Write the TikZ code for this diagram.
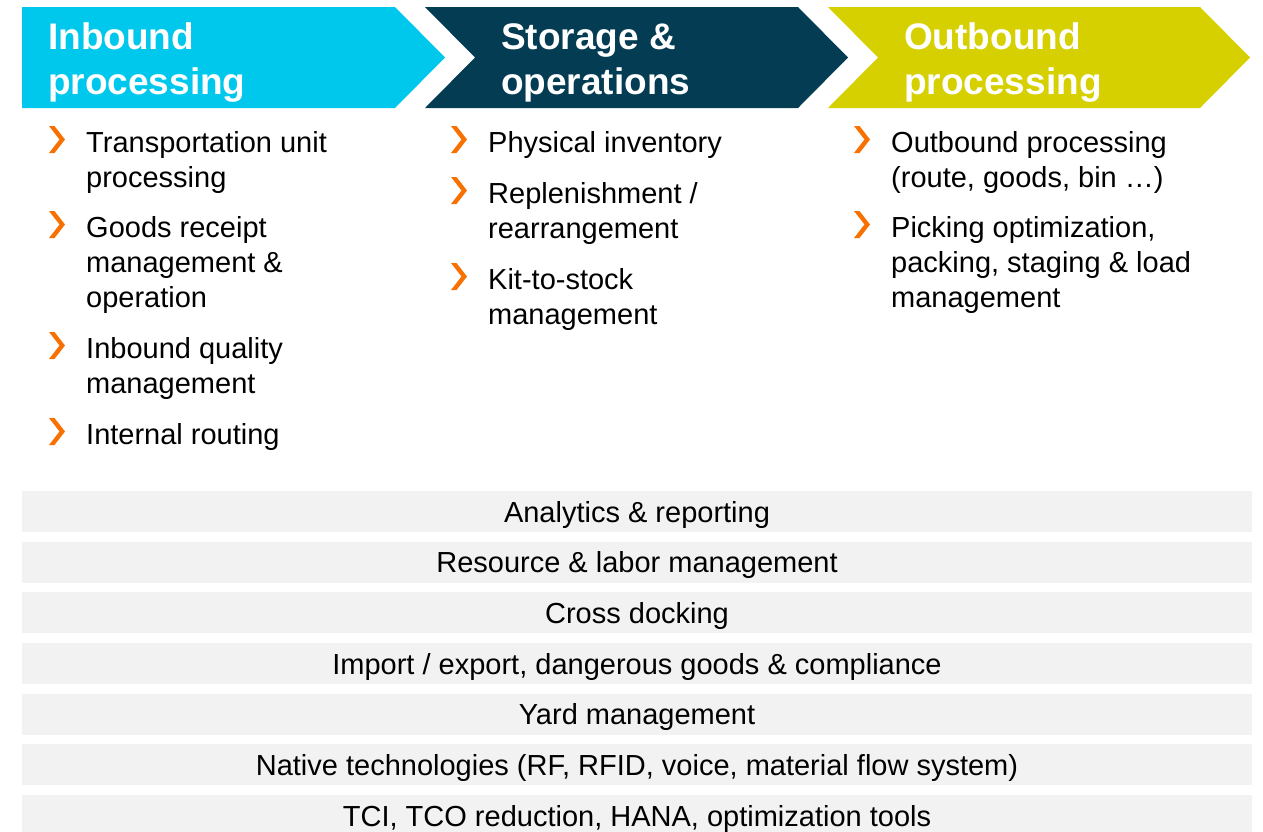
\documentclass[tikz,border=0pt]{standalone}
\usepackage{fontspec}
\setmainfont{Liberation Sans}
\definecolor{hcyan}{RGB}{0,200,236}
\definecolor{hteal}{RGB}{4,61,83}
\definecolor{holive}{RGB}{214,208,0}
\definecolor{borange}{RGB}{248,112,0}
\definecolor{bargray}{RGB}{242,242,242}
% multi-line nodes: the base anchor sits on the baseline of the LAST line
\tikzset{
  headtext/.style={anchor=base west, inner sep=0pt, align=left, text=white,
    font=\fontsize{37}{45}\selectfont\bfseries},
  itemtext/.style={anchor=base west, inner sep=0pt, align=left, text=black,
    font=\fontsize{29}{35}\selectfont},
  barbox/.style={fill=bargray, inner sep=0pt, minimum width=1230pt, minimum height=41pt,
    text height=21pt, text depth=0pt, font=\fontsize{29}{35}\selectfont},
}
\newcommand{\bulletmark}[2]{%
  \fill[borange] (#1,#2) -- ++(5.5,0) -- ++(10.5,13.5) -- ++(-10.5,13.5) -- ++(-5.5,0) -- ++(10.5,-13.5) -- cycle;}
\begin{document}
\begin{tikzpicture}[x=1pt,y=-1pt]
\useasboundingbox (0,0) rectangle (1263,831);
% headers
\fill[hcyan] (22,7) -- (395,7) -- (445,57.5) -- (395,108) -- (22,108) -- cycle;
\fill[hteal] (425,7) -- (798,7) -- (848,57.5) -- (798,108) -- (425,108) -- (475,57.5) -- cycle;
\fill[holive] (828,7) -- (1200,7) -- (1250,57.5) -- (1200,108) -- (828,108) -- (878,57.5) -- cycle;
\node[headtext] (h1) at (48,94) {Inbound\\processing};
\node[headtext] (h2) at (501,94) {Storage \&\\operations};
\node[headtext] (h3) at (904,94) {Outbound\\processing};
% left column
\bulletmark{49}{126}
\node[itemtext] (l1) at (86,187) {Transportation unit\\processing};
\bulletmark{49}{211}
\node[itemtext] (l2) at (86,307) {Goods receipt\\management \&\\operation};
\bulletmark{49}{332}
\node[itemtext] (l3) at (86,393) {Inbound quality\\management};
\bulletmark{49}{418}
\node[itemtext] (l4) at (86,444) {Internal routing};
% middle column
\bulletmark{451}{126}
\node[itemtext] (m1) at (488,152) {Physical inventory};
\bulletmark{451}{177}
\node[itemtext] (m2) at (488,238) {Replenishment /\\rearrangement};
\bulletmark{451}{263}
\node[itemtext] (m3) at (488,324) {Kit-to-stock\\management};
% right column
\bulletmark{854}{126}
\node[itemtext] (r1) at (891,187) {Outbound processing\\(route, goods, bin …)};
\bulletmark{854}{211}
\node[itemtext] (r2) at (891,307) {Picking optimization,\\packing, staging \& load\\management};
% bars
\node[barbox] (b1) at (637,511.5) {Analytics \& reporting};
\node[barbox] (b2) at (637,562.2) {Resource \& labor management};
\node[barbox] (b3) at (637,612.8) {Cross docking};
\node[barbox] (b4) at (637,663.5) {Import / export, dangerous goods \& compliance};
\node[barbox] (b5) at (637,714.2) {Yard management};
\node[barbox] (b6) at (637,764.8) {Native technologies (RF, RFID, voice, material flow system)};
\node[barbox] (b7) at (637,815.5) {TCI, TCO reduction, HANA, optimization tools};
\end{tikzpicture}
\end{document}
